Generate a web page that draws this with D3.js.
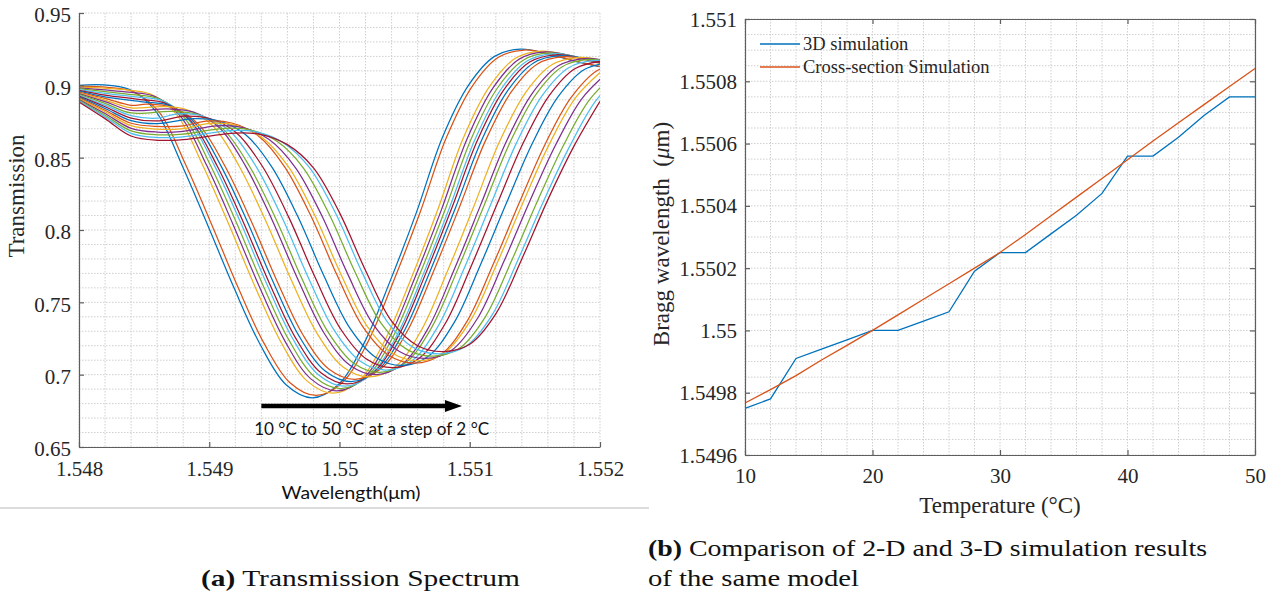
<!DOCTYPE html>
<html><head><meta charset="utf-8">
<script src="https://cdn.jsdelivr.net/npm/d3@7"></script>
<style>html,body{margin:0;padding:0;background:#fff;}svg{display:block;}</style>
</head><body>
<svg id="chart" width="1281" height="596"></svg>
<script>
// ---------------- DATA: panel (a) transmission spectra ----------------
const TEMPS = [10,12,14,16,18,20,22,24,26,28,30,32,34,36,38,40,42,44,46,48,50];
// dip centre (µm) of each spectrum
const DIP_CENTER = [1.54979,1.54982,1.54995,1.54998,1.55001,1.55004,1.55006,1.55009,1.55012,1.55023,
  1.55028,1.55031,1.55036,1.55041,1.55048,1.55058,1.55061,1.55066,1.55072,1.55077,1.55080];
// wavelengths (µm) of the sampled left background
const LEFT_WL = [1.5480,1.5482,1.5484,1.5486,1.5488];
const T_LEFT = [
 [0.9000,null,null,null,null],
 [0.8994,null,null,null,null],
 [0.8989,0.8980,null,null,null],
 [0.8983,0.8968,null,null,null],
 [0.8977,0.8956,null,null,null],
 [0.8971,0.8945,null,null,null],
 [0.8966,0.8933,null,null,null],
 [0.8960,0.8921,null,null,null],
 [0.8954,0.8910,0.8862,null,null],
 [0.8948,0.8898,0.8844,null,null],
 [0.8943,0.8887,0.8827,null,null],
 [0.8937,0.8875,0.8809,null,null],
 [0.8931,0.8863,0.8791,0.8773,null],
 [0.8925,0.8852,0.8774,0.8754,null],
 [0.8920,0.8840,0.8756,0.8735,null],
 [0.8914,0.8828,0.8738,0.8716,0.8720],
 [0.8908,0.8817,0.8721,0.8697,0.8701],
 [0.8902,0.8805,0.8703,0.8677,0.8682],
 [0.8897,0.8793,0.8685,0.8658,0.8663],
 [0.8891,0.8782,0.8668,0.8639,0.8644],
 [0.8885,0.8770,0.8650,0.8620,0.8625]
];
// offsets from the dip centre, in units of 1e-4 µm
const DIP_OFFSET = [-16,-14,-12,-10,-8,-6,-4,-2,0,2,4,6,8,10,12,14,16,18,20,22];
const T_DIP = [
 [0.9003,0.8970,0.8820,0.8450,0.8030,0.7600,0.7210,0.6930,0.6840,0.6930,0.7220,0.7650,0.8120,0.8640,0.9000,0.9200,0.9250,0.9220,0.9170,0.9130],
 [0.8986,0.8955,0.8809,0.8449,0.8035,0.7606,0.7218,0.6944,0.6856,0.6944,0.7230,0.7658,0.8125,0.8637,0.8995,0.9194,0.9244,0.9215,0.9166,0.9127],
 [0.8970,0.8939,0.8797,0.8448,0.8039,0.7612,0.7226,0.6957,0.6872,0.6958,0.7240,0.7665,0.8129,0.8634,0.8989,0.9187,0.9237,0.9209,0.9162,0.9124],
 [0.8953,0.8924,0.8786,0.8447,0.8044,0.7618,0.7234,0.6971,0.6888,0.6972,0.7250,0.7673,0.8134,0.8631,0.8984,0.9181,0.9231,0.9204,0.9158,0.9121],
 [0.8936,0.8908,0.8774,0.8446,0.8048,0.7624,0.7242,0.6984,0.6904,0.6986,0.7260,0.7680,0.8138,0.8628,0.8978,0.9174,0.9224,0.9198,0.9154,null],
 [0.8920,0.8893,0.8763,0.8445,0.8053,0.7630,0.7250,0.6998,0.6920,0.7000,0.7270,0.7688,0.8143,0.8625,0.8973,0.9168,0.9218,0.9193,0.9150,null],
 [0.8903,0.8877,0.8751,0.8444,0.8057,0.7636,0.7258,0.7011,0.6936,0.7014,0.7280,0.7695,0.8147,0.8622,0.8967,0.9161,0.9211,0.9187,0.9146,null],
 [0.8886,0.8862,0.8740,0.8443,0.8062,0.7642,0.7266,0.7025,0.6952,0.7028,0.7290,0.7703,0.8152,0.8619,0.8962,0.9155,0.9205,0.9182,0.9142,null],
 [0.8870,0.8846,0.8728,0.8442,0.8066,0.7648,0.7274,0.7038,0.6968,0.7042,0.7300,0.7710,0.8156,0.8616,0.8956,0.9148,0.9198,0.9176,0.9138,null],
 [0.8853,0.8831,0.8717,0.8441,0.8071,0.7654,0.7282,0.7052,0.6984,0.7056,0.7310,0.7718,0.8161,0.8613,0.8951,0.9142,0.9192,0.9171,null,null],
 [0.8837,0.8815,0.8705,0.8440,0.8075,0.7660,0.7290,0.7065,0.7000,0.7070,0.7320,0.7725,0.8165,0.8610,0.8945,0.9135,0.9185,0.9165,null,null],
 [0.8820,0.8800,0.8694,0.8439,0.8080,0.7666,0.7298,0.7079,0.7016,0.7084,0.7330,0.7733,0.8170,0.8607,0.8940,0.9129,0.9179,0.9160,null,null],
 [0.8803,0.8784,0.8682,0.8438,0.8084,0.7672,0.7306,0.7092,0.7032,0.7098,0.7340,0.7740,0.8174,0.8604,0.8934,0.9122,0.9172,0.9154,null,null],
 [0.8787,0.8769,0.8671,0.8437,0.8089,0.7678,0.7314,0.7106,0.7048,0.7112,0.7350,0.7748,0.8179,0.8601,0.8929,0.9116,0.9166,null,null,null],
 [0.8770,0.8753,0.8659,0.8436,0.8093,0.7684,0.7322,0.7119,0.7064,0.7126,0.7360,0.7755,0.8183,0.8598,0.8923,0.9109,0.9159,null,null,null],
 [0.8753,0.8738,0.8648,0.8435,0.8098,0.7690,0.7330,0.7133,0.7080,0.7140,0.7370,0.7763,0.8188,0.8595,0.8918,0.9103,0.9153,null,null,null],
 [0.8737,0.8722,0.8636,0.8434,0.8102,0.7696,0.7338,0.7146,0.7096,0.7154,0.7380,0.7770,0.8192,0.8592,0.8912,0.9096,null,null,null,null],
 [0.8720,0.8707,0.8625,0.8433,0.8107,0.7702,0.7346,0.7160,0.7112,0.7168,0.7390,0.7778,0.8197,0.8589,0.8907,0.9090,null,null,null,null],
 [0.8703,0.8691,0.8613,0.8432,0.8111,0.7708,0.7354,0.7173,0.7128,0.7182,0.7400,0.7785,0.8201,0.8586,0.8901,0.9083,null,null,null,null],
 [0.8687,0.8676,0.8602,0.8431,0.8116,0.7714,0.7362,0.7187,0.7144,0.7196,0.7410,0.7793,0.8206,0.8583,0.8896,0.9077,null,null,null,null],
 [0.8670,0.8660,0.8590,0.8430,0.8120,0.7720,0.7370,0.7200,0.7160,0.7210,0.7420,0.7800,0.8210,0.8580,0.8890,null,null,null,null,null]
];
const L_XTICKS = [1.548,1.549,1.550,1.551,1.552];
const L_XLABELS = ['1.548','1.549','1.55','1.551','1.552'];
const L_YTICKS = [0.65,0.70,0.75,0.80,0.85,0.90,0.95];
const L_YLABELS = ['0.65','0.7','0.75','0.8','0.85','0.9','0.95'];

// ---------------- DATA: panel (b) Bragg wavelength ----------------
const TEMP_B = [10,12,14,16,18,20,22,24,26,28,30,32,34,36,38,40,42,44,46,48,50];
const SIM_3D = [1.54975,1.54978,1.54991,1.54994,1.54997,1.55000,1.55000,1.55003,1.55006,1.55019,1.55025,
  1.55025,1.55031,1.55037,1.55044,1.55056,1.55056,1.55062,1.55069,1.55075,1.55075];
const SIM_CROSS = [1.549767,1.549810,1.549855,1.549905,1.549952,1.550000,1.550050,1.550100,1.550150,1.550200,
  1.550250,1.550308,1.550368,1.550428,1.550488,1.550548,1.550608,1.550667,1.550725,1.550783,1.550841];
const SERIES_NAMES = ['3D simulation','Cross-section Simulation'];
const R_XTICKS = [10,20,30,40,50];
const R_YTICKS = [1.5496,1.5498,1.5500,1.5502,1.5504,1.5506,1.5508,1.5510];
const R_YLABELS = ['1.5496','1.5498','1.55','1.5502','1.5504','1.5506','1.5508','1.551'];

// ---------------- STYLE ----------------
const COLORS = ['#0072BD','#D95319','#EDB120','#7E2F8E','#77AC30','#4DBEEE','#A2142F'];
const SERIF = '"Liberation Serif","Times New Roman",serif';
const SANS = 'Lato,"Open Sans",sans-serif';
const AXIS_COL = '#5e5e5e', TEXT_COL = '#262626', GRID_COL = '#cfcfcf';

const svg = d3.select('#chart');

function grid(g, x, y, xt, yt, box) {
  g.selectAll('line.gx').data(xt).join('line').attr('class','gx')
    .attr('x1',d=>x(d)).attr('x2',d=>x(d)).attr('y1',box.y0).attr('y2',box.y1);
  g.selectAll('line.gy').data(yt).join('line').attr('class','gy')
    .attr('y1',d=>y(d)).attr('y2',d=>y(d)).attr('x1',box.x0).attr('x2',box.x1);
  g.selectAll('line').attr('stroke',GRID_COL).attr('stroke-width',1).attr('stroke-dasharray','1.5,1.5');
}
function styleAxis(g, size) {
  g.attr('font-family',SERIF).attr('font-size',size);
  g.selectAll('path.domain').attr('stroke',AXIS_COL).attr('stroke-width',1.2);
  g.selectAll('.tick line').attr('stroke',AXIS_COL).attr('stroke-width',1.2);
  g.selectAll('.tick text').attr('fill',TEXT_COL).style('font-family',SERIF).style('font-size',size+'px');
}

// ================= PANEL (a) =================
const A = {x0:79, x1:600, y0:13, y1:447};
const xA = d3.scaleLinear().domain([1.548,1.552]).range([A.x0,A.x1]);
const yA = d3.scaleLinear().domain([0.65,0.95]).range([A.y1,A.y0]);
const gA = svg.append('g');
grid(gA.append('g'), xA, yA, xA.ticks(20), yA.ticks(30), A);

svg.append('clipPath').attr('id','clipA').append('rect')
  .attr('x',A.x0).attr('y',A.y0).attr('width',A.x1-A.x0).attr('height',A.y1-A.y0);
const lineA = d3.line().x(d=>xA(d[0])).y(d=>yA(d[1])).curve(d3.curveCatmullRom.alpha(0.5));
const curves = TEMPS.map((t,i)=>{
  const pts=[];
  LEFT_WL.forEach((w,k)=>{const v=T_LEFT[i][k]; if(v!=null) pts.push([w,v]);});
  DIP_OFFSET.forEach((o,k)=>{const v=T_DIP[i][k]; if(v!=null) pts.push([DIP_CENTER[i]+o*1e-4,v]);});
  return pts;
});
gA.append('g').attr('clip-path','url(#clipA)').selectAll('path').data(curves).join('path')
  .attr('d',lineA).attr('fill','none').attr('stroke',(d,i)=>COLORS[i%7]).attr('stroke-width',1.25);

const axAx = gA.append('g').attr('transform',`translate(0,${A.y1})`)
  .call(d3.axisBottom(xA).tickValues(L_XTICKS).tickFormat((d,i)=>L_XLABELS[i]).tickSize(-5).tickSizeOuter(0).tickPadding(14));
styleAxis(axAx,21);
const axAy = gA.append('g').attr('transform',`translate(${A.x0},0)`)
  .call(d3.axisLeft(yA).tickValues(L_YTICKS).tickFormat((d,i)=>L_YLABELS[i]).tickSize(-5).tickSizeOuter(0).tickPadding(8));
styleAxis(axAy,21);
axAy.selectAll('.tick text').attr('dy','0.42em');

gA.append('text').attr('transform','translate(24,196) rotate(-90)').attr('text-anchor','middle')
  .attr('font-family',SERIF).style('font-size','23px').attr('fill',TEXT_COL).text('Transmission');
gA.append('text').attr('x',351).attr('y',499).attr('text-anchor','middle')
  .attr('font-family',SANS).style('font-size','18px').attr('fill','#111')
  .attr('textLength',139).attr('lengthAdjust','spacingAndGlyphs').text('Wavelength(μm)');

// annotation arrow
const ARROW = {from:1.5494, to:1.55094, at:0.6783};
const ay = yA(ARROW.at), ax0 = xA(ARROW.from), ax1 = xA(ARROW.to);
gA.append('line').attr('x1',ax0).attr('x2',ax1-14).attr('y1',ay).attr('y2',ay)
  .attr('stroke','#000').attr('stroke-width',4.6);
gA.append('path').attr('d',`M${ax1},${ay} L${ax1-17},${ay-6} L${ax1-17},${ay+6} Z`).attr('fill','#000');
gA.append('text').attr('x',(ax0+ax1)/2+10).attr('y',ay+29).attr('text-anchor','middle')
  .attr('font-family',SANS).style('font-size','18px').attr('fill','#111')
  .attr('textLength',235).attr('lengthAdjust','spacingAndGlyphs').text('10 °C to 50 °C at a step of 2 °C');

svg.append('line').attr('x1',0).attr('x2',649).attr('y1',508).attr('y2',508)
  .attr('stroke','#dcdcdc').attr('stroke-width',2);

// ================= PANEL (b) =================
const B = {x0:745, x1:1255, y0:19, y1:455};
const xB = d3.scaleLinear().domain([10,50]).range([B.x0,B.x1]);
const yB = d3.scaleLinear().domain([1.5496,1.5510]).range([B.y1,B.y0]);
const gB = svg.append('g');
grid(gB.append('g'), xB, yB, xB.ticks(20), yB.ticks(28), B);

const lineB = d3.line().x((d,i)=>xB(TEMP_B[i])).y(d=>yB(d));
const seriesB = [SIM_3D, SIM_CROSS];
gB.append('g').selectAll('path').data(seriesB).join('path')
  .attr('d',lineB).attr('fill','none').attr('stroke',(d,i)=>COLORS[i]).attr('stroke-width',1.3);

const bxB = gB.append('g').attr('transform',`translate(0,${B.y1})`)
  .call(d3.axisBottom(xB).tickValues(R_XTICKS).tickFormat(d3.format('d')).tickSize(-5).tickSizeOuter(0).tickPadding(13));
styleAxis(bxB,21);
const lyB = gB.append('g').attr('transform',`translate(${B.x0},0)`)
  .call(d3.axisLeft(yB).tickValues(R_YTICKS).tickFormat((d,i)=>R_YLABELS[i]).tickSize(-5).tickSizeOuter(0).tickPadding(8));
styleAxis(lyB,21);
lyB.selectAll('.tick text').attr('dy','0.34em');
const txB = gB.append('g').attr('transform',`translate(0,${B.y0})`)
  .call(d3.axisTop(xB).tickValues(R_XTICKS).tickFormat('').tickSize(-5).tickSizeOuter(0));
styleAxis(txB,21);
const ryB = gB.append('g').attr('transform',`translate(${B.x1},0)`)
  .call(d3.axisRight(yB).tickValues(R_YTICKS).tickFormat('').tickSize(-5).tickSizeOuter(0));
styleAxis(ryB,21);

// legend
const leg = gB.append('g');
SERIES_NAMES.forEach((n,i)=>{
  const yy = 44 + i*23;
  leg.append('line').attr('x1',760).attr('x2',800).attr('y1',yy).attr('y2',yy)
    .attr('stroke',COLORS[i]).attr('stroke-width',1.3);
  leg.append('text').attr('x',803).attr('y',yy+6).attr('font-family',SERIF).style('font-size','18.5px')
    .attr('fill',TEXT_COL).text(n);
});

const yl = gB.append('text').attr('transform','translate(669,234) rotate(-90)').attr('text-anchor','middle')
  .attr('font-family',SERIF).style('font-size','23px').attr('fill',TEXT_COL);
yl.append('tspan').text('Bragg wavelength\u00a0\u00a0(');
yl.append('tspan').style('font-style','italic').text('μ');
yl.append('tspan').text('m)');
gB.append('text').attr('x',1000).attr('y',513).attr('text-anchor','middle')
  .attr('font-family',SERIF).style('font-size','23px').attr('fill',TEXT_COL).text('Temperature (°C)');

// ================= CAPTIONS =================
function caption(x,y,bold,rest,len){
  const t = svg.append('text').attr('x',x).attr('y',y).attr('font-family',SERIF).style('font-size','24px')
    .attr('fill','#111').attr('textLength',len).attr('lengthAdjust','spacingAndGlyphs');
  t.append('tspan').style('font-weight','bold').text(bold);
  t.append('tspan').text(rest);
}
caption(201,586,'(a)',' Transmission Spectrum',319);
caption(648,556,'(b)',' Comparison of 2-D and 3-D simulation results',559);
svg.append('text').attr('x',648).attr('y',586).attr('font-family',SERIF).style('font-size','24px')
  .attr('fill','#111').attr('textLength',211).attr('lengthAdjust','spacingAndGlyphs').text('of the same model');
</script>
</body></html>
